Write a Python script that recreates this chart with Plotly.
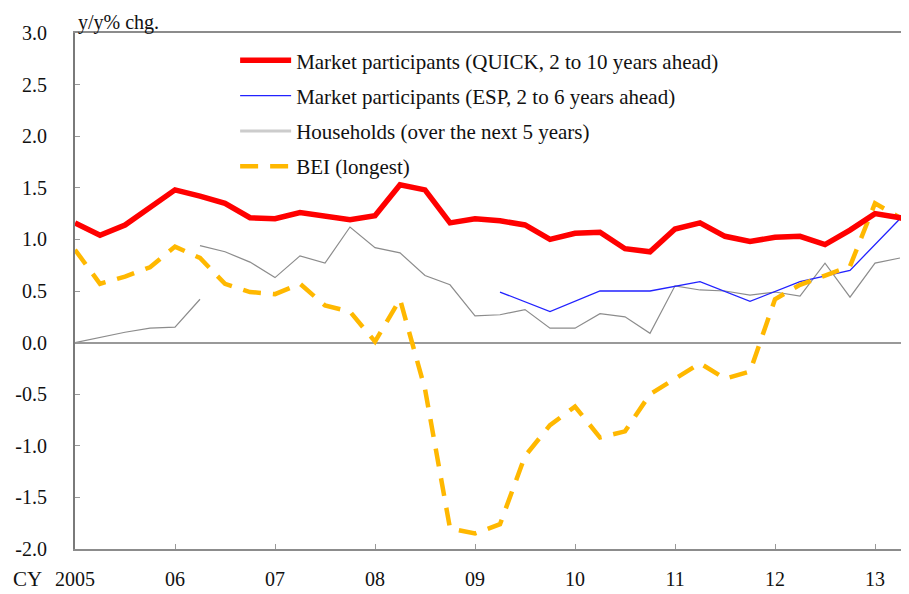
import plotly.graph_objects as go

# Quarterly calendar positions (fractional years), CY2005 Q1 .. CY2013 Q3
QUARTERS = [2005 + q / 4 for q in range(35)]

# Market participants (QUICK, 2 to 10 years ahead)
QUICK = [1.16, 1.04, 1.14, 1.31, 1.48, 1.42, 1.35, 1.21, 1.20, 1.26, 1.23, 1.19,
         1.23, 1.53, 1.48, 1.16, 1.20, 1.18, 1.14, 1.00, 1.06, 1.07, 0.91, 0.88,
         1.10, 1.16, 1.03, 0.98, 1.02, 1.03, 0.95, 1.09, 1.25, 1.21, 1.12]

# BEI (longest)
BEI = [0.90, 0.57, 0.64, 0.73, 0.93, 0.82, 0.57, 0.49, 0.47, 0.57, 0.36, 0.30,
       0.01, 0.42, -0.45, -1.80, -1.85, -1.76, -1.10, -0.80, -0.62, -0.92, -0.86, -0.50,
       -0.35, -0.20, -0.35, -0.28, 0.42, 0.56, 0.65, 0.74, 1.35, 1.21, 1.30]

# Market participants (ESP, 2 to 6 years ahead) - semiannual
ESP_X = [2009.25, 2009.75, 2010.25, 2010.75, 2011.25, 2011.75, 2012.25, 2012.75, 2013.25]
ESP = [0.49, 0.30, 0.50, 0.50, 0.59, 0.40, 0.59, 0.70, 1.20]

# Households (over the next 5 years): old survey and new survey segments
HH_OLD_X = [2005.0, 2005.25, 2005.5, 2005.75, 2006.0, 2006.25]
HH_OLD = [0.00, 0.05, 0.10, 0.14, 0.15, 0.42]
HH_NEW_X = QUARTERS[5:34]
HH_NEW = [0.94, 0.88, 0.78, 0.63, 0.84, 0.77, 1.12, 0.92, 0.87, 0.65, 0.56, 0.26,
          0.27, 0.32, 0.14, 0.14, 0.28, 0.25, 0.09, 0.55, 0.51, 0.50, 0.46, 0.49,
          0.45, 0.77, 0.44, 0.77, 0.82]

YEAR_TICKS = [2005, 2006, 2007, 2008, 2009, 2010, 2011, 2012, 2013]
YEAR_LABELS = ["2005", "06", "07", "08", "09", "10", "11", "12", "13"]
Y_TICKS = [3.0, 2.5, 2.0, 1.5, 1.0, 0.5, 0.0, -0.5, -1.0, -1.5, -2.0]
Y_LABELS = ["3.0", "2.5", "2.0", "1.5", "1.0", "0.5", "0.0",
            "-0.5", "-1.0", "-1.5", "-2.0"]

FONT = "Liberation Serif, Times New Roman, serif"
RED = "#ff0000"
BLUE = "#2222ff"
GREY = "#8c8c8c"
GREY_LEG = "#cccccc"
ORANGE = "#ffb800"

fig = go.Figure()

# data lines (no legend entries; legend uses dummy traces below)
fig.add_trace(go.Scatter(x=HH_OLD_X, y=HH_OLD, mode="lines",
                         line=dict(color=GREY, width=1.2), showlegend=False))
fig.add_trace(go.Scatter(x=HH_NEW_X, y=HH_NEW, mode="lines",
                         line=dict(color=GREY, width=1.2), showlegend=False))
fig.add_trace(go.Scatter(x=ESP_X, y=ESP, mode="lines",
                         line=dict(color=BLUE, width=1.3), showlegend=False))
fig.add_trace(go.Scatter(x=QUARTERS, y=BEI, mode="lines",
                         line=dict(color=ORANGE, width=4.5, dash="18px,12px"),
                         showlegend=False))
fig.add_trace(go.Scatter(x=QUARTERS, y=QUICK, mode="lines",
                         line=dict(color=RED, width=5.5), showlegend=False))

# legend entries
legend_items = [
    ("Market participants (QUICK, 2 to 10 years ahead)", dict(color=RED, width=5.5)),
    ("Market participants (ESP, 2 to 6 years ahead)", dict(color=BLUE, width=1.3)),
    ("Households (over the next 5 years)", dict(color=GREY_LEG, width=3)),
    ("BEI (longest)", dict(color=ORANGE, width=4.5, dash="18px,12px")),
]
for i, (label, line) in enumerate(legend_items):
    fig.add_trace(go.Scatter(x=[None], y=[None], mode="lines", name=label,
                             line=line, legendgroup=f"g{i}", showlegend=True))

# page body adds an 8px offset, so the figure is sized/margined to compensate
fig.update_layout(
    width=901, height=586,
    margin=dict(l=67, r=0, t=25, b=45, autoexpand=False),
    plot_bgcolor="white", paper_bgcolor="white",
    font=dict(family=FONT, size=20, color="#111111"),
    legend=dict(
        x=0.192, y=0.986, xanchor="left", yanchor="top",
        bgcolor="rgba(0,0,0,0)", borderwidth=0,
        font=dict(family=FONT, size=21, color="#111111"),
        traceorder="grouped", tracegroupgap=5, itemwidth=51,
    ),
)

fig.update_xaxes(
    range=[2005, 2013.34],
    tickvals=YEAR_TICKS, ticktext=YEAR_LABELS,
    ticks="inside", ticklen=5, tickcolor="#999999",
    showline=True, linecolor="#8c8c8c", linewidth=2, mirror=True,
    showgrid=False, zeroline=False, automargin=False,
    ticklabelstandoff=11,
)
fig.update_yaxes(
    range=[-2.0, 3.0],
    tickvals=Y_TICKS, ticktext=Y_LABELS,
    ticks="inside", ticklen=5, tickcolor="#999999",
    showline=True, linecolor="#7a7a7a", linewidth=2,
    showgrid=False, zeroline=True, zerolinecolor="#999999", zerolinewidth=2,
    automargin=False, ticklabelstandoff=22,
)

fig.add_annotation(text="y/y% chg.", xref="paper", yref="paper", x=0, y=1,
                   xanchor="left", yanchor="middle", xshift=2, yshift=11,
                   showarrow=False, borderpad=0,
                   font=dict(family=FONT, size=20))
fig.add_annotation(text="CY", xref="paper", yref="paper", x=0, y=0,
                   xanchor="center", yanchor="top", xshift=-48, yshift=-16,
                   showarrow=False, font=dict(family=FONT, size=21))

fig.write_html("out.html")
